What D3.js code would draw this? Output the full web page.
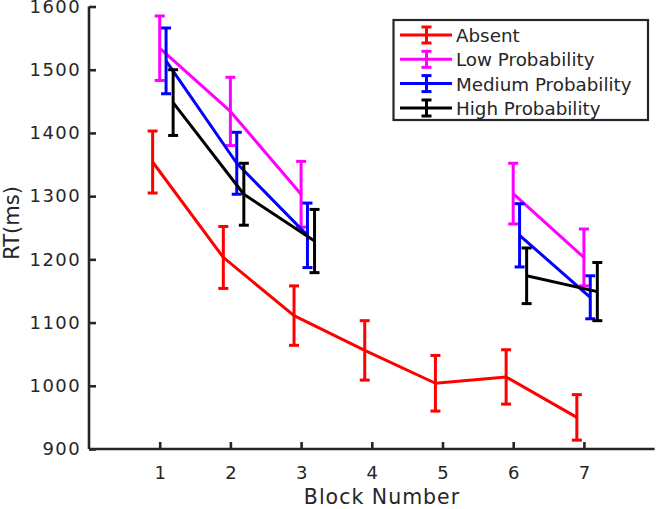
<!DOCTYPE html>
<html>
<head>
<meta charset="utf-8">
<script src="https://cdn.jsdelivr.net/npm/d3@7"></script>
<style>
  html, body { margin: 0; padding: 0; background: #fff; }
  svg { display: block; }
  text { font-family: "DejaVu Sans", Verdana, sans-serif; fill: #262626; }
</style>
</head>
<body>
<svg id="chart" width="656" height="509"></svg>
<script>
// ---- data ----
const blocks = [1, 2, 3, 4, 5, 6, 7];
const seriesNames = ["Absent", "Low Probability", "Medium Probability", "High Probability"];
const seriesColors = ["#ff0000", "#ff00ff", "#0000ff", "#000000"];
const seriesOffsets = [-0.1, 0, 0.09, 0.19];

const absentRT = [1354, 1203, 1111, 1056, 1004, 1014, 950];
const absentErr = [49, 49, 47, 47, 44, 43, 36];
const lowRT = [1534, 1434, 1303, null, null, 1304, 1203];
const lowErr = [51, 54, 52, null, null, 48, 45];
const mediumRT = [1514, 1352, 1238, null, null, 1238, 1140];
const mediumErr = [52, 49, 51, null, null, 50, 34];
const highRT = [1448, 1303, 1229, null, null, 1174, 1149];
const highErr = [52, 49, 50, null, null, 44, 46];

const yTicks = [900, 1000, 1100, 1200, 1300, 1400, 1500, 1600];
const xTicks = [1, 2, 3, 4, 5, 6, 7];

const allRT = [absentRT, lowRT, mediumRT, highRT];
const allErr = [absentErr, lowErr, mediumErr, highErr];

// ---- layout ----
const svg = d3.select("#chart");
const mLeft = 89, mRight = 654.6, mTop = 6.5, mBottom = 449;
const axisColor = "#262626";

const x = d3.scaleLinear().domain([0, 8]).range([mLeft, mRight]);
const y = d3.scaleLinear().domain([900, 1600]).range([mBottom, mTop]);

// axes
const xAxis = d3.axisBottom(x).tickValues(xTicks).tickFormat(d3.format("d"))
  .tickSize(-7).tickPadding(17).tickSizeOuter(0);
const yAxis = d3.axisLeft(y).tickValues(yTicks).tickFormat(d3.format("d"))
  .tickSize(-7).tickPadding(8).tickSizeOuter(0);

const gx = svg.append("g").attr("transform", `translate(0,${mBottom})`).call(xAxis);
const gy = svg.append("g").attr("transform", `translate(${mLeft},0)`).call(yAxis);

[gx, gy].forEach(g => {
  g.select(".domain").attr("stroke", axisColor).attr("stroke-width", 2.6);
  g.selectAll(".tick line").attr("stroke", axisColor).attr("stroke-width", 2.6);
  g.selectAll(".tick text")
    .style("font-family", '"DejaVu Sans", Verdana, sans-serif')
    .style("font-size", "18px")
    .attr("fill", axisColor);
});
gy.selectAll(".tick text").style("letter-spacing", "1.4px");
gy.select(".domain").attr("d", `M0,${mBottom}V${mTop}`);
gx.select(".domain").attr("d", `M${mLeft},0H${mRight}`);

// axis labels
svg.append("text")
  .attr("x", 382).attr("y", 504)
  .attr("text-anchor", "middle")
  .style("font-size", "20.5px")
  .style("letter-spacing", "1px")
  .text("Block Number");

svg.append("text")
  .attr("transform", `translate(19,223) rotate(-90)`)
  .attr("text-anchor", "middle")
  .style("font-size", "21px")
  .text("RT(ms)");

// ---- series ----
const capHalf = 5;
allRT.forEach((vals, si) => {
  const color = seriesColors[si];
  const off = seriesOffsets[si];
  const pts = blocks.map((b, i) => ({ b: b + off, v: vals[i], e: allErr[si][i] }));
  const line = d3.line()
    .defined(d => d.v !== null)
    .x(d => x(d.b)).y(d => y(d.v));
  const g = svg.append("g");
  g.append("path")
    .datum(pts)
    .attr("d", line)
    .attr("fill", "none")
    .attr("stroke", color)
    .attr("stroke-width", 3)
    .attr("stroke-linejoin", "round");
  const eb = g.selectAll(".eb").data(pts.filter(d => d.v !== null)).join("g");
  eb.append("line")
    .attr("x1", d => x(d.b)).attr("x2", d => x(d.b))
    .attr("y1", d => y(d.v - d.e)).attr("y2", d => y(d.v + d.e))
    .attr("stroke", color).attr("stroke-width", 3);
  eb.append("line")
    .attr("x1", d => x(d.b) - capHalf).attr("x2", d => x(d.b) + capHalf)
    .attr("y1", d => y(d.v + d.e)).attr("y2", d => y(d.v + d.e))
    .attr("stroke", color).attr("stroke-width", 3);
  eb.append("line")
    .attr("x1", d => x(d.b) - capHalf).attr("x2", d => x(d.b) + capHalf)
    .attr("y1", d => y(d.v - d.e)).attr("y2", d => y(d.v - d.e))
    .attr("stroke", color).attr("stroke-width", 3);
});

// ---- legend ----
const lg = svg.append("g");
lg.append("rect")
  .attr("x", 393.5).attr("y", 20).attr("width", 254.5).attr("height", 100)
  .attr("fill", "#fff").attr("stroke", axisColor).attr("stroke-width", 2.2);
const rowY = [35, 59.3, 83.6, 108];
seriesNames.forEach((name, i) => {
  const cy = rowY[i];
  const c = seriesColors[i];
  lg.append("line").attr("x1", 400).attr("x2", 452).attr("y1", cy).attr("y2", cy)
    .attr("stroke", c).attr("stroke-width", 3);
  lg.append("line").attr("x1", 426.5).attr("x2", 426.5).attr("y1", cy - 8).attr("y2", cy + 8)
    .attr("stroke", c).attr("stroke-width", 3);
  [cy - 8, cy + 8].forEach(yy => {
    lg.append("line").attr("x1", 421.5).attr("x2", 431.5).attr("y1", yy).attr("y2", yy)
      .attr("stroke", c).attr("stroke-width", 3);
  });
  lg.append("text").attr("x", 456).attr("y", cy + 7)
    .style("font-size", "18.3px")
    .text(name);
});
</script>
</body>
</html>
